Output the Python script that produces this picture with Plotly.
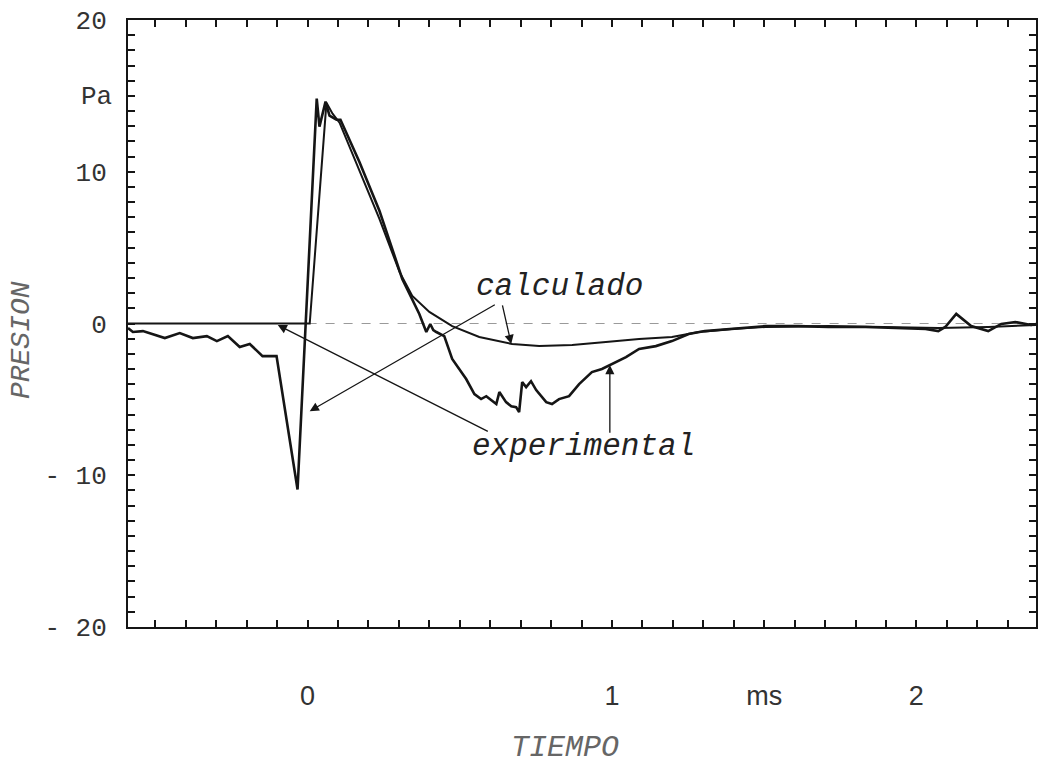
import plotly.graph_objects as go

# ---- data (time in ms, pressure in Pa) ----
exp_t = [-0.590, -0.574, -0.541, -0.508, -0.469, -0.420, -0.377, -0.331, -0.298, -0.262,
         -0.223, -0.190, -0.148, -0.102, -0.033, 0.030, 0.039, 0.059, 0.072, 0.095,
         0.108, 0.170, 0.236, 0.311, 0.367, 0.390, 0.403, 0.413, 0.423, 0.449,
         0.475, 0.521, 0.548, 0.570, 0.587, 0.620, 0.630, 0.652, 0.669, 0.685,
         0.695, 0.705, 0.718, 0.734, 0.751, 0.784, 0.803, 0.826, 0.859, 0.892,
         0.934, 0.967, 1.000, 1.046, 1.089, 1.144, 1.197, 1.252, 1.305, 1.390,
         1.439, 1.505, 1.613, 1.711, 1.833, 1.941, 2.030, 2.072, 2.095, 2.131,
         2.180, 2.236, 2.279, 2.325, 2.377, 2.393]
exp_p = [-0.30, -0.56, -0.50, -0.69, -0.96, -0.63, -0.96, -0.83, -1.16, -0.83,
         -1.55, -1.35, -2.15, -2.15, -10.94, 14.82, 12.97, 14.62, 13.70, 13.43,
         13.43, 10.66, 7.43, 2.94, 0.63, -0.56, -0.03, -0.43, -0.56, -0.83,
         -2.34, -3.66, -4.65, -4.98, -4.79, -5.31, -4.52, -5.18, -5.45, -5.51,
         -5.84, -3.86, -4.19, -3.80, -4.39, -5.18, -5.31, -4.98, -4.79, -3.99,
         -3.20, -3.00, -2.67, -2.21, -1.68, -1.49, -1.16, -0.69, -0.50, -0.36,
         -0.23, -0.17, -0.17, -0.23, -0.23, -0.30, -0.36, -0.50, -0.23, 0.63,
         -0.17, -0.50, -0.03, 0.10, -0.10, -0.03]

calc_t = [-0.590, 0.007, 0.062, 0.082, 0.105, 0.180, 0.236, 0.302, 0.344, 0.400,
          0.475, 0.564, 0.672, 0.761, 0.869, 0.980, 1.089, 1.197, 1.285, 1.393,
          1.505, 1.711, 1.941, 2.072, 2.236, 2.393]
calc_p = [0.0, 0.0, 14.55, 13.83, 13.23, 9.54, 6.90, 3.40, 1.82, 0.76,
          -0.17, -0.89, -1.35, -1.49, -1.42, -1.22, -1.02, -0.89, -0.56, -0.36,
          -0.23, -0.17, -0.23, -0.30, -0.23, -0.10]

x_tickvals = [0, 1, 1.5, 2]
x_ticktext = ["0", "1", "ms", "2"]
y_tickvals = [-20, -10, 0, 10, 20]
y_ticktext = ["- 20", "- 10", "0", "10", "20"]

X_RANGE = [-0.59, 2.393]
Y_RANGE = [-20, 20]

INK = "#151515"
MONO = "Liberation Mono, Courier New, monospace"

fig = go.Figure()
fig.add_trace(go.Scatter(x=calc_t, y=calc_p, mode="lines",
                         line=dict(color=INK, width=2), name="calculado",
                         hoverinfo="skip"))
fig.add_trace(go.Scatter(x=exp_t, y=exp_p, mode="lines",
                         line=dict(color=INK, width=2.6), name="experimental",
                         hoverinfo="skip"))

# zero reference line
fig.add_shape(type="line", x0=0.0, x1=X_RANGE[1], y0=0, y1=0, xref="x", yref="y",
              line=dict(color="#9a9a9a", width=1.2, dash="dash"), layer="below")

# arrows
arrows = [
    # (tip_x, tip_y, tail_x, tail_y)
    (0.007, -5.78, 0.620, 1.29),
    (0.669, -1.35, 0.639, 1.29),
    (-0.098, -0.10, 0.597, -7.16),
    (0.993, -2.74, 0.993, -7.29),
]
for tx, ty, sx, sy in arrows:
    fig.add_annotation(x=tx, y=ty, ax=sx, ay=sy, xref="x", yref="y",
                       axref="x", ayref="y", text="", showarrow=True,
                       arrowhead=2, arrowsize=1.4, arrowwidth=1.3, arrowcolor=INK)

fig.add_annotation(x=0.826, y=2.41, xref="x", yref="y", text="<i>calculado</i>",
                   showarrow=False, xanchor="center", yanchor="middle",
                   font=dict(family=MONO, size=31, color="#222"))
fig.add_annotation(x=0.908, y=-8.09, xref="x", yref="y", text="<i>experimental</i>",
                   showarrow=False, xanchor="center", yanchor="middle",
                   font=dict(family=MONO, size=31, color="#222"))
fig.add_annotation(x=-0.035, y=0.873, xref="paper", yref="paper", text="Pa",
                   showarrow=False, xanchor="center", yanchor="middle",
                   font=dict(family=MONO, size=26, color="#333"))
fig.add_annotation(x=-0.1165, y=0.473, xref="paper", yref="paper", text="<i>PRESION</i>",
                   textangle=-90, showarrow=False, xanchor="center", yanchor="middle",
                   font=dict(family=MONO, size=28, color="#666"))
fig.add_annotation(x=0.481, y=-0.199, xref="paper", yref="paper", text="<i>TIEMPO</i>",
                   showarrow=False, xanchor="center", yanchor="middle",
                   font=dict(family=MONO, size=30, color="#666"))

axis_common = dict(showgrid=False, zeroline=False, showline=True, linecolor=INK,
                   linewidth=2, ticks="inside", ticklen=7, tickwidth=1.5,
                   tickcolor=INK)

fig.update_layout(
    width=1044, height=767,
    margin=dict(l=128, r=6, t=20, b=140),
    paper_bgcolor="white", plot_bgcolor="white",
    showlegend=False,
    xaxis=dict(range=X_RANGE, tickmode="array", tickvals=x_tickvals,
               ticktext=x_ticktext, ticklabelstandoff=44,
               tickfont=dict(family="Liberation Sans, Arial, sans-serif", size=27,
                             color="#333"),
               minor=dict(dtick=0.1, tick0=0, ticks="inside", ticklen=7,
                          tickwidth=1.5, tickcolor=INK),
               mirror="allticks", **axis_common),
    yaxis=dict(range=Y_RANGE, tickmode="array", tickvals=y_tickvals,
               ticktext=y_ticktext, ticklabelstandoff=14,
               tickfont=dict(family=MONO, size=26, color="#333"),
               minor=dict(dtick=1, tick0=0, ticks="inside", ticklen=7,
                          tickwidth=1.5, tickcolor=INK),
               mirror="allticks", **axis_common),
)

fig.write_html("out.html")
